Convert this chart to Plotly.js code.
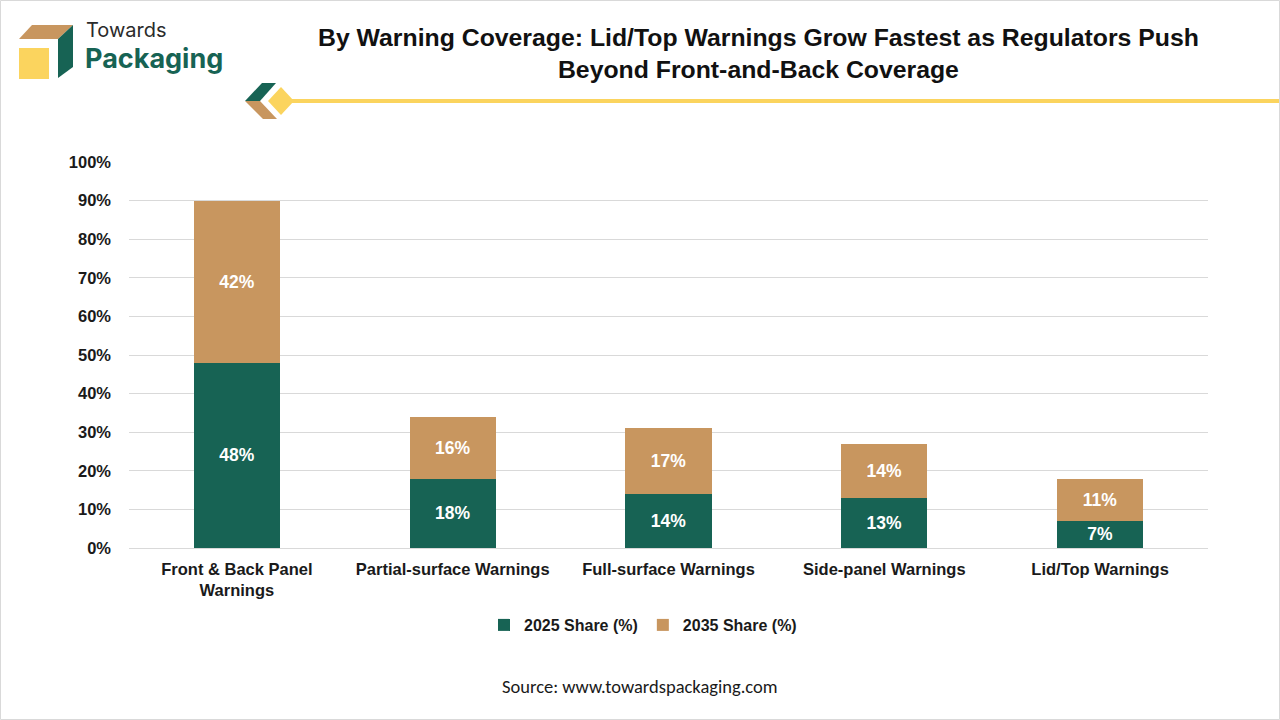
<!DOCTYPE html>
<html>
<head>
<meta charset="utf-8">
<script src="https://cdn.plot.ly/plotly-3.0.1.min.js"></script>
<style>
  html, body { margin: 0; padding: 0; background: #ffffff; }
  #chart { width: 1280px; height: 720px; }
</style>
</head>
<body>
<div id="chart"></div>
<script>
  'use strict';

  var categories = [
    'Front & Back Panel<br>Warnings',
    'Partial-surface Warnings',
    'Full-surface Warnings',
    'Side-panel Warnings',
    'Lid/Top Warnings'
  ];
  var share2025 = [48, 18, 14, 13, 7];
  var share2035 = [42, 16, 17, 14, 11];
  var seriesNames = ['2025 Share (%)', '2035 Share (%)'];

  var GREEN = '#176354';
  var TAN = '#c8965f';
  var YELLOW = '#fbd45e';

  // page geometry (pixels) -> paper coordinates
  var W = 1280, H = 720;
  var M = { l: 129, r: 72, t: 162, b: 172 };
  var PW = W - M.l - M.r, PH = H - M.t - M.b;
  function px(x) { return (x - M.l) / PW; }
  function py(y) { return (H - M.b - y) / PH; }
  function poly(points) {
    return points.map(function (p, i) {
      return (i ? 'L' : 'M') + px(p[0]).toFixed(5) + ',' + py(p[1]).toFixed(5);
    }).join(' ') + ' Z';
  }
  function pathShape(points, color) {
    return { type: 'path', xref: 'paper', yref: 'paper', path: poly(points),
      fillcolor: color, line: { width: 0 }, layer: 'above' };
  }

  var barText = { color: '#ffffff', size: 17.5, family: 'Liberation Sans, Arial, sans-serif', weight: 'bold' };

  // %{y} already carries the axis '%' suffix
  var traces = [
    {
      type: 'bar', name: seriesNames[0], x: categories, y: share2025,
      marker: { color: GREEN },
      texttemplate: '%{y}', textposition: 'inside', insidetextanchor: 'middle',
      textangle: 0, textfont: barText, hoverinfo: 'skip'
    },
    {
      type: 'bar', name: seriesNames[1], x: categories, y: share2035,
      marker: { color: TAN },
      texttemplate: '%{y}', textposition: 'inside', insidetextanchor: 'middle',
      textangle: 0, textfont: barText, hoverinfo: 'skip'
    }
  ];

  var shapes = [
    // logo cube
    pathShape([[19, 39], [32, 25], [73, 25], [58, 39]], TAN),
    pathShape([[58, 39], [73, 25], [73, 67], [58, 78]], GREEN),
    pathShape([[19, 48], [49, 48], [49, 79], [19, 79]], YELLOW),
    // divider ornament
    pathShape([[245, 101], [262, 83], [276, 83], [260, 101]], GREEN),
    pathShape([[245, 101], [260, 101], [277, 119], [263, 119]], TAN),
    pathShape([[268, 101], [281, 87], [294, 101], [281, 115]], YELLOW),
    { type: 'line', xref: 'paper', yref: 'paper', x0: px(292), x1: px(1280), y0: py(101), y1: py(101),
      line: { color: YELLOW, width: 4 }, layer: 'above' },
    // outer frame
    { type: 'rect', xref: 'paper', yref: 'paper', x0: px(0.5), x1: px(1279.5), y0: py(0.5), y1: py(719.5),
      line: { color: '#d9d9d9', width: 1 }, fillcolor: 'rgba(0,0,0,0)' }
  ];

  var titleFont = { family: 'Liberation Sans, Arial, sans-serif', size: 24.8, color: '#111111', weight: 'bold' };

  var annotations = [
    { xref: 'paper', yref: 'paper', x: px(758), y: py(54), xanchor: 'center', yanchor: 'middle',
      text: 'By Warning Coverage: Lid/Top Warnings Grow Fastest as Regulators Push<br>Beyond Front-and-Back Coverage',
      showarrow: false, font: titleFont, align: 'center' },
    { xref: 'paper', yref: 'paper', x: px(84), y: py(30), xanchor: 'left', yanchor: 'middle',
      text: 'Towards', showarrow: false,
      font: { family: 'Inter, Lato, sans-serif', size: 20, color: '#2b2b2b' } },
    { xref: 'paper', yref: 'paper', x: px(83), y: py(59), xanchor: 'left', yanchor: 'middle',
      text: 'Packaging', showarrow: false,
      font: { family: 'Inter, Lato, sans-serif', size: 27, color: GREEN, weight: 'bold' } },
    { xref: 'paper', yref: 'paper', x: px(640), y: py(686), xanchor: 'center', yanchor: 'middle',
      text: 'Source: www.towardspackaging.com', showarrow: false,
      font: { family: 'Carlito, Liberation Sans, Arial, sans-serif', size: 18.5, color: '#1a1a1a' } }
  ];

  var axisFont = { family: 'Liberation Sans, Arial, sans-serif', size: 16.5, color: '#1a1a1a', weight: 'bold' };
  var legendFont = { family: 'Liberation Sans, Arial, sans-serif', size: 16, color: '#1a1a1a', weight: 'bold' };

  var layout = {
    width: W, height: H,
    margin: M,
    paper_bgcolor: '#ffffff', plot_bgcolor: '#ffffff',
    barmode: 'stack', bargap: 0.6,
    showlegend: true,
    legend: {
      orientation: 'h', xref: 'paper', yref: 'paper',
      x: px(643), y: py(625), xanchor: 'center', yanchor: 'middle',
      font: legendFont, traceorder: 'normal', itemwidth: 30
    },
    xaxis: {
      tickfont: axisFont, showgrid: false, showline: false, ticks: '',
      ticklabelstandoff: 9, fixedrange: true
    },
    yaxis: {
      range: [0, 100], dtick: 10, ticksuffix: '%', tickfont: axisFont,
      showgrid: true, gridcolor: '#d9d9d9', gridwidth: 1,
      zeroline: true, zerolinecolor: '#d9d9d9', zerolinewidth: 1,
      showline: false, ticks: '', ticklabelstandoff: 17, fixedrange: true
    },
    shapes: shapes,
    annotations: annotations
  };

  Plotly.newPlot('chart', traces, layout, { displayModeBar: false, staticPlot: true });
</script>
</body>
</html>
